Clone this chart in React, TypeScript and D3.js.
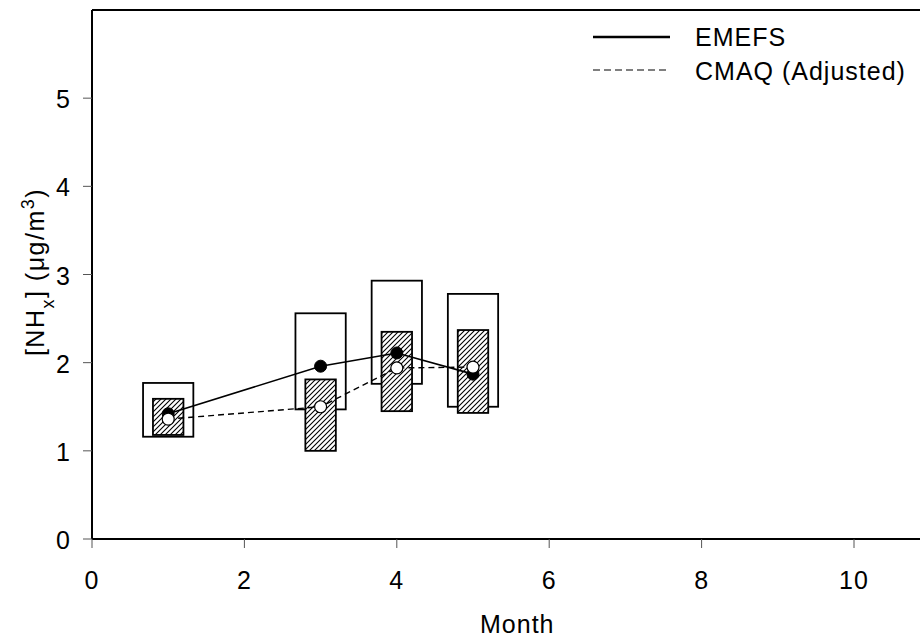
import React from "react";
import * as d3 from "d3";

const months = [1, 3, 4, 5];
const emefsMean = [1.42, 1.96, 2.11, 1.87];
const cmaqMean = [1.36, 1.5, 1.94, 1.95];
const emefsLow = [1.16, 1.47, 1.76, 1.5];
const emefsHigh = [1.77, 2.56, 2.93, 2.78];
const cmaqLow = [1.18, 1.0, 1.45, 1.43];
const cmaqHigh = [1.59, 1.81, 2.35, 2.37];
const xTicks = [0, 2, 4, 6, 8, 10];
const yTicks = [0, 1, 2, 3, 4, 5];
const legendLabels = ["EMEFS", "CMAQ (Adjusted)"];

const W = 920;
const H = 640;
const FONT = "'Liberation Sans', Arial, sans-serif";
const FS = 25;
const LS = 1;

export default function App() {
  const x = d3.scaleLinear().domain([0, 12]).range([92, 92 + 12 * 76.2]);
  const y = d3.scaleLinear().domain([0, 6]).range([539, 10]);
  const openHalf = 0.33;
  const hatchHalf = 0.2;

  const line = d3
    .line<[number, number]>()
    .x((d) => x(d[0]))
    .y((d) => y(d[1]));
  const emefsPts: [number, number][] = months.map((m, i) => [m, emefsMean[i]]);
  const cmaqPts: [number, number][] = months.map((m, i) => [m, cmaqMean[i]]);

  return (
    <svg
      width={W}
      height={H}
      style={{ position: "absolute", left: 0, top: 0, display: "block", background: "#fff" }}
      fontFamily={FONT}
    >
      <defs>
        <pattern id="hatch" patternUnits="userSpaceOnUse" width={5} height={5}>
          <rect width={5} height={5} fill="#fff" />
          <path d="M-1,1 L1,-1 M0,5 L5,0 M4,6 L6,4" stroke="#000" strokeWidth={1.1} />
        </pattern>
      </defs>

      {/* open boxes (EMEFS range) */}
      {months.map((m, i) => (
        <rect
          key={"o" + i}
          x={x(m - openHalf)}
          y={y(emefsHigh[i])}
          width={x(m + openHalf) - x(m - openHalf)}
          height={y(emefsLow[i]) - y(emefsHigh[i])}
          fill="none"
          stroke="#000"
          strokeWidth={1.8}
        />
      ))}
      {/* hatched boxes (CMAQ range) */}
      {months.map((m, i) => (
        <rect
          key={"h" + i}
          x={x(m - hatchHalf)}
          y={y(cmaqHigh[i])}
          width={x(m + hatchHalf) - x(m - hatchHalf)}
          height={y(cmaqLow[i]) - y(cmaqHigh[i])}
          fill="url(#hatch)"
          stroke="#000"
          strokeWidth={1.8}
        />
      ))}

      <path d={line(emefsPts) || ""} fill="none" stroke="#000" strokeWidth={1.6} />
      <path d={line(cmaqPts) || ""} fill="none" stroke="#000" strokeWidth={1.4} strokeDasharray="6,4" />

      {emefsPts.map((p, i) => (
        <circle key={"e" + i} cx={x(p[0])} cy={y(p[1])} r={6} fill="#000" stroke="#000" strokeWidth={1} />
      ))}
      {cmaqPts.map((p, i) => (
        <circle key={"c" + i} cx={x(p[0])} cy={y(p[1])} r={6} fill="#fff" stroke="#000" strokeWidth={1.2} />
      ))}

      {/* axes frame */}
      <line x1={x(0)} x2={W} y1={y(0)} y2={y(0)} stroke="#000" strokeWidth={2} />
      <line x1={x(0)} x2={x(0)} y1={y(0)} y2={y(6)} stroke="#000" strokeWidth={2} />
      <line x1={x(0)} x2={W} y1={y(6)} y2={y(6)} stroke="#000" strokeWidth={2} />

      {xTicks.map((t) => (
        <g key={"xt" + t}>
          <line x1={x(t)} x2={x(t)} y1={y(0)} y2={y(0) + 9} stroke="#555" strokeWidth={1} />
          <text x={x(t)} y={589} textAnchor="middle" fontSize={FS} letterSpacing={LS} fill="#000">
            {t}
          </text>
        </g>
      ))}
      {yTicks.map((t) => (
        <g key={"yt" + t}>
          <line x1={x(0) - 9} x2={x(0)} y1={y(t)} y2={y(t)} stroke="#555" strokeWidth={1} />
          <text x={70} y={y(t) + 10} textAnchor="end" fontSize={FS} fill="#000">
            {t}
          </text>
        </g>
      ))}

      <text x={480} y={633} textAnchor="start" fontSize={FS} letterSpacing={LS} fill="#000">
        Month
      </text>
      <text
        transform="translate(44,272) rotate(-90)"
        textAnchor="middle"
        fontSize={FS}
        letterSpacing={1.5}
        fill="#000"
      >
        [NH<tspan baselineShift="sub" fontSize={18}>x</tspan>] (μg/m<tspan baselineShift="super" fontSize={18}>3</tspan>)
      </text>

      {/* legend */}
      <line x1={593} x2={670} y1={37} y2={37} stroke="#000" strokeWidth={2.4} />
      <text x={695} y={46} fontSize={FS} letterSpacing={LS} fill="#000">
        {legendLabels[0]}
      </text>
      <line x1={593} x2={670} y1={70} y2={70} stroke="#000" strokeWidth={1.2} strokeDasharray="7,4" />
      <text x={695} y={80} fontSize={FS} letterSpacing={LS} fill="#000">
        {legendLabels[1]}
      </text>
    </svg>
  );
}
